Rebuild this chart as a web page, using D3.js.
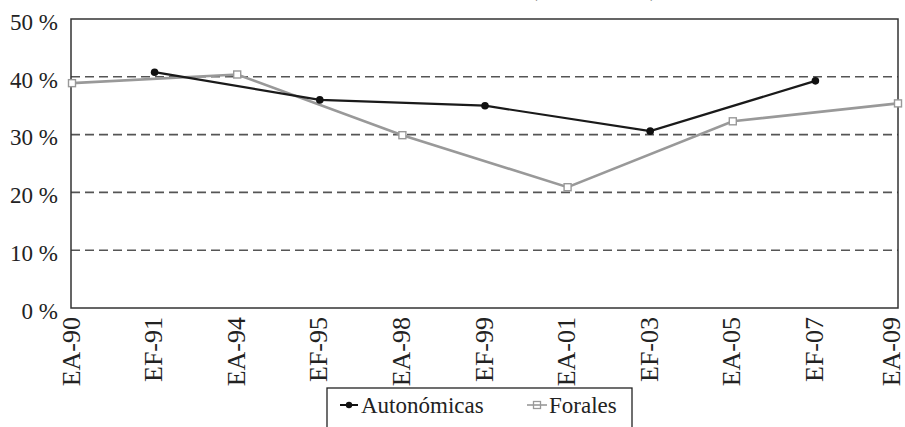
<!DOCTYPE html>
<html>
<head>
<meta charset="utf-8">
<script src="https://cdn.jsdelivr.net/npm/d3@7"></script>
<style>
  body { margin: 0; background: #fff; }
  svg { display: block; }
  svg text { font-family: "Liberation Serif", "Times New Roman", Times, "DejaVu Serif", serif; }
</style>
</head>
<body>
<svg id="chart" width="905" height="427"></svg>
<script>
// categories (election years)
var categories = ['EA-90','EF-91','EA-94','EF-95','EA-98','EF-99','EA-01','EF-03','EA-05','EF-07','EA-09'];
// Autonómicas (black, dots)
var autoCats = ['EF-91','EF-95','EF-99','EF-03','EF-07'];
var autoVals = [40.8, 36.0, 35.0, 30.6, 39.3];
// Forales (gray, open squares)
var foralCats = ['EA-90','EA-94','EA-98','EA-01','EA-05','EA-09'];
var foralVals = [38.9, 40.4, 29.9, 20.9, 32.3, 35.4];
var yTicks = [0, 10, 20, 30, 40, 50];

var svg = d3.select("#chart"),
    margin = {top: 19, left: 71, bottom: 119, right: 7},
    width = +svg.attr("width"),
    height = +svg.attr("height");

var x = d3.scalePoint()
    .domain(categories)
    .range([margin.left + 1, width - margin.right]);

var y = d3.scaleLinear()
    .domain([0, 50])
    .range([height - margin.bottom, margin.top]);

// cropped title (only the bottoms of the brackets show)
svg.append("text").attr("x", 530).attr("y", -4).attr("font-size", 23).attr("fill", "#555").text("(");
svg.append("text").attr("x", 650).attr("y", -4).attr("font-size", 23).attr("fill", "#555").text(")");

// dashed grid
svg.append("g")
    .selectAll("line")
    .data(yTicks.filter(d => d > 0 && d < 50))
    .enter().append("line")
    .attr("x1", margin.left)
    .attr("x2", width - margin.right)
    .attr("y1", d => y(d))
    .attr("y2", d => y(d))
    .attr("stroke", "#555")
    .attr("stroke-width", 1.6)
    .attr("stroke-dasharray", "9,5");

// plot frame
svg.append("rect")
    .attr("x", margin.left)
    .attr("y", margin.top)
    .attr("width", width - margin.right - margin.left)
    .attr("height", y(0) - margin.top)
    .attr("fill", "none")
    .attr("stroke", "#333")
    .attr("stroke-width", 1.5);

// y axis labels
var yAxis = svg.append("g")
    .attr("transform", `translate(${margin.left},0)`)
    .call(d3.axisLeft(y).tickValues(yTicks).tickSize(0).tickPadding(13).tickFormat(d => d + " %"));
yAxis.attr("font-family", null);
yAxis.select(".domain").remove();
yAxis.selectAll("text")
    .attr("font-size", 23)
    .attr("fill", "#222")
    .attr("dy", "0.45em");

// x axis labels
var xAxis = svg.append("g")
    .attr("transform", `translate(0,${y(0)})`)
    .call(d3.axisBottom(x).tickSize(0).tickPadding(0));
xAxis.attr("font-family", null);
xAxis.select(".domain").remove();
xAxis.selectAll("text")
    .attr("font-size", 26)
    .attr("fill", "#222")
    .attr("transform", "rotate(-90)")
    .attr("x", -9)
    .attr("y", (d, i) => i === categories.length - 1 ? -7 : -1.5)
    .attr("dy", "0.33em")
    .style("text-anchor", "end");

var line = d3.line().x(d => x(d.c)).y(d => y(d.v));

var autoData = autoCats.map((c, i) => ({c: c, v: autoVals[i]}));
var foralData = foralCats.map((c, i) => ({c: c, v: foralVals[i]}));

svg.append("path")
    .datum(foralData)
    .attr("d", line)
    .attr("fill", "none")
    .attr("stroke", "#999")
    .attr("stroke-width", 2.6);

svg.append("path")
    .datum(autoData)
    .attr("d", line)
    .attr("fill", "none")
    .attr("stroke", "#1a1a1a")
    .attr("stroke-width", 2.2);

svg.selectAll(".foral-pt")
    .data(foralData)
    .enter().append("rect")
    .attr("class", "foral-pt")
    .attr("x", d => x(d.c) - 3.5)
    .attr("y", d => y(d.v) - 3.5)
    .attr("width", 7)
    .attr("height", 7)
    .attr("fill", "#fff")
    .attr("stroke", "#999")
    .attr("stroke-width", 1.4);

svg.selectAll(".auto-pt")
    .data(autoData)
    .enter().append("circle")
    .attr("class", "auto-pt")
    .attr("cx", d => x(d.c))
    .attr("cy", d => y(d.v))
    .attr("r", 3.8)
    .attr("fill", "#111");

// legend
var legend = svg.append("g");
legend.append("rect")
    .attr("x", 327).attr("y", 388)
    .attr("width", 305).attr("height", 45)
    .attr("fill", "#fff")
    .attr("stroke", "#222")
    .attr("stroke-width", 1.3);

legend.append("line")
    .attr("x1", 340).attr("x2", 358).attr("y1", 405).attr("y2", 405)
    .attr("stroke", "#111").attr("stroke-width", 2);
legend.append("circle")
    .attr("cx", 349).attr("cy", 405).attr("r", 3.2).attr("fill", "#111");
legend.append("text")
    .attr("x", 361).attr("y", 413)
    .attr("font-size", 23).attr("fill", "#222")
    .text("Autonómicas");

legend.append("line")
    .attr("x1", 527).attr("x2", 547).attr("y1", 405).attr("y2", 405)
    .attr("stroke", "#999").attr("stroke-width", 1.6);
legend.append("rect")
    .attr("x", 533.5).attr("y", 401.5).attr("width", 7).attr("height", 7)
    .attr("fill", "none").attr("stroke", "#999").attr("stroke-width", 1.3);
legend.append("text")
    .attr("x", 549).attr("y", 413)
    .attr("font-size", 23).attr("fill", "#222")
    .text("Forales");
</script>
</body>
</html>
